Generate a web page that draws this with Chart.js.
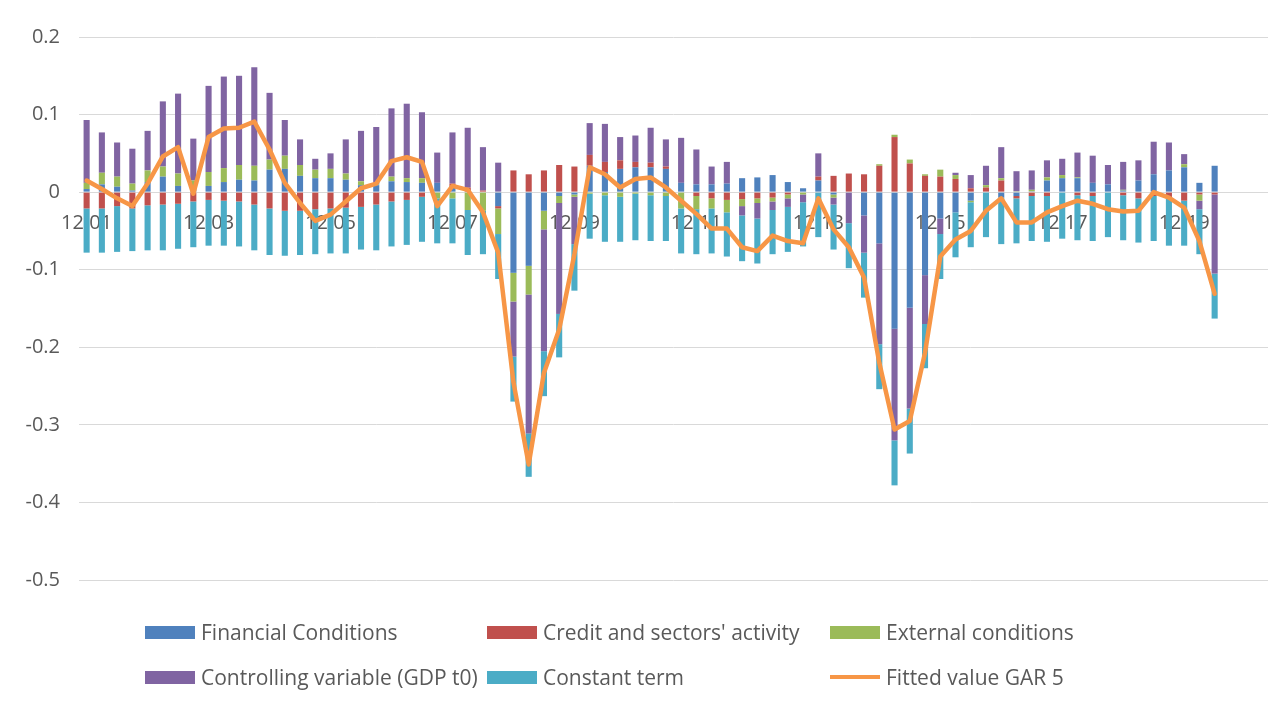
<!DOCTYPE html>
<html>
<head>
<meta charset="utf-8">
<script src="https://cdn.jsdelivr.net/npm/chart.js@4.4.1/dist/chart.umd.min.js"></script>
<style>
  body { margin: 0; background: #fff; }
  #wrap { position: relative; width: 1282px; height: 706px; }
  #legend { position: absolute; left: 0; top: 0; width: 1282px; height: 706px; pointer-events: none;
    font-family: "Open Sans", sans-serif; font-size: 21px; color: #595959; }
  .item { position: absolute; display: flex; align-items: center; white-space: nowrap; }
  .item .mark { width: 50px; height: 13px; margin-right: 6px; }
  .item .mark.line { height: 4px; }
</style>
</head>
<body>
<div id="wrap">
  <canvas id="gar" width="1282" height="706"></canvas>
  <div id="legend"></div>
</div>
<script>
// quarters, 12.01 .. 06.20 (three empty slots after, as in the original axis)
const quarters = [
  "12.01",
  "03.02","06.02","09.02","12.02","03.03","06.03","09.03","12.03",
  "03.04","06.04","09.04","12.04","03.05","06.05","09.05","12.05",
  "03.06","06.06","09.06","12.06","03.07","06.07","09.07","12.07",
  "03.08","06.08","09.08","12.08","03.09","06.09","09.09","12.09",
  "03.10","06.10","09.10","12.10","03.11","06.11","09.11","12.11",
  "03.12","06.12","09.12","12.12","03.13","06.13","09.13","12.13",
  "03.14","06.14","09.14","12.14","03.15","06.15","09.15","12.15",
  "03.16","06.16","09.16","12.16","03.17","06.17","09.17","12.17",
  "03.18","06.18","09.18","12.18","03.19","06.19","09.19","12.19",
  "03.20","06.20","09.20","12.20","03.21"
];

const financialConditions = [
  0.004,0.010,0.007,0.002,0.013,0.020,0.008,0.005,0.008,0.013,0.016,0.015,0.029,0.030,0.021,0.018,
  0.018,0.016,0.009,0.009,0.014,0.013,0.012,0.012,0.008,0,0,-0.018,-0.104,-0.095,-0.024,-0.005,
  -0.003,0.034,0.026,0.030,0.032,0.032,0.030,0.012,0.010,0.010,0.011,0.018,0.019,0.022,0.013,0.005,
  0.015,-0.003,0,-0.030,-0.066,-0.176,-0.149,-0.107,-0.034,-0.026,-0.011,0,-0.007,-0.005,0.001,0.015,
  0.018,0.018,0.012,0.010,0.002,0.015,0.023,0.028,0.032,0.012,0.034
];
const creditActivity = [
  -0.021,-0.021,-0.018,-0.021,-0.017,-0.016,-0.015,-0.012,-0.010,-0.011,-0.012,-0.016,-0.021,-0.024,-0.024,-0.022,
  -0.021,-0.020,-0.019,-0.016,-0.012,-0.010,-0.006,0,0.003,0.006,0.002,-0.003,0.028,0.023,0.028,0.035,
  0.033,0.014,0.013,0.011,0.007,0.006,0.003,0,-0.005,-0.008,-0.010,-0.009,-0.008,-0.007,-0.003,0,
  0.005,0.021,0.024,0.023,0.034,0.071,0.037,0.021,0.020,0.017,0.005,0.006,0.015,-0.003,-0.005,-0.005,
  0,-0.004,-0.005,0,-0.004,-0.008,-0.005,-0.007,-0.011,-0.003,-0.003
];
const externalConditions = [
  0.008,0.015,0.013,0.009,0.015,0.013,0.016,0.010,0.018,0.018,0.019,0.019,0.013,0.017,0.014,0.011,
  0.012,0.008,0.005,0.001,0.006,0.005,0.006,-0.008,-0.008,-0.023,-0.024,-0.033,-0.037,-0.037,-0.024,-0.009,
  -0.003,-0.002,-0.004,-0.006,-0.002,-0.004,-0.005,-0.021,-0.017,-0.013,-0.016,-0.009,-0.006,-0.005,-0.005,-0.003,
  0,-0.004,0,0,0.002,0.003,0.005,0.002,0.009,0.005,-0.002,0.003,0.003,0.001,0.002,0.004,
  0.004,0.001,0,0,0.001,0,0,0,0.004,-0.008,0
];
const controllingGdp = [
  0.081,0.052,0.044,0.045,0.051,0.084,0.103,0.054,0.111,0.118,0.115,0.127,0.086,0.046,0.033,0.014,
  0.020,0.044,0.065,0.074,0.088,0.096,0.085,0.039,0.066,0.077,0.056,0.038,-0.071,-0.179,-0.157,-0.143,
  -0.061,0.041,0.049,0.030,0.034,0.045,0.035,0.058,0.045,0.023,0.028,-0.012,-0.020,-0.011,-0.011,-0.010,
  0.030,-0.009,-0.040,-0.048,-0.130,-0.144,-0.130,-0.063,-0.020,0.003,0.017,0.025,0.040,0.026,0.025,0.022,
  0.021,0.032,0.035,0.025,0.036,0.026,0.042,0.036,0.013,-0.011,-0.102
];
const constantTerm = [
  -0.057,-0.057,-0.059,-0.055,-0.058,-0.059,-0.058,-0.059,-0.059,-0.058,-0.058,-0.059,-0.060,-0.058,-0.057,-0.058,
  -0.058,-0.059,-0.055,-0.059,-0.058,-0.058,-0.058,-0.058,-0.058,-0.058,-0.056,-0.058,-0.058,-0.056,-0.058,-0.056,
  -0.060,-0.058,-0.060,-0.058,-0.060,-0.059,-0.058,-0.058,-0.058,-0.058,-0.057,-0.059,-0.058,-0.057,-0.058,-0.057,
  -0.058,-0.058,-0.058,-0.058,-0.058,-0.058,-0.058,-0.057,-0.058,-0.058,-0.058,-0.058,-0.060,-0.058,-0.058,-0.059,
  -0.060,-0.058,-0.058,-0.058,-0.058,-0.057,-0.058,-0.062,-0.058,-0.058,-0.058
];
const fittedGar5 = [
  0.015,0.004,-0.008,-0.018,0.011,0.046,0.058,-0.002,0.071,0.082,0.083,0.091,0.055,0.012,-0.014,-0.037,
  -0.029,-0.012,0.005,0.011,0.040,0.045,0.039,-0.018,0.008,0.003,-0.026,-0.078,-0.245,-0.351,-0.233,-0.177,
  -0.080,0.032,0.023,0.006,0.017,0.019,0.006,-0.011,-0.028,-0.047,-0.047,-0.071,-0.076,-0.056,-0.063,-0.066,
  -0.008,-0.048,-0.071,-0.110,-0.220,-0.306,-0.295,-0.207,-0.083,-0.061,-0.050,-0.024,-0.008,-0.039,-0.039,-0.026,
  -0.018,-0.011,-0.015,-0.022,-0.025,-0.024,0.000,-0.007,-0.020,-0.063,-0.131
];

const yTicks = [0.2, 0.1, 0, -0.1, -0.2, -0.3, -0.4, -0.5];

const FONT = '"Open Sans", sans-serif';
const GREY = '#595959';

function barSet(label, data, color) {
  return {
    type: 'bar', label: label, data: data, backgroundColor: color,
    stack: 's', order: 1, barPercentage: 0.4, categoryPercentage: 1
  };
}

const datasets = [
  barSet('Financial Conditions', financialConditions, '#4F81BD'),
  barSet("Credit and sectors' activity", creditActivity, '#C0504D'),
  barSet('External conditions', externalConditions, '#9BBB59'),
  barSet('Controlling variable (GDP t0)', controllingGdp, '#8064A2'),
  barSet('Constant term', constantTerm, '#4BACC6'),
  {
    type: 'line', label: 'Fitted value GAR 5', data: fittedGar5,
    borderColor: '#F79646', borderWidth: 4.5, pointRadius: 0,
    borderJoinStyle: 'round', borderCapStyle: 'round', tension: 0, order: 0
  }
];

const chart = new Chart(document.getElementById('gar'), {
  data: { labels: quarters, datasets: datasets },
  options: {
    responsive: false,
    animation: false,
    layout: { padding: { top: 37, right: 14, bottom: 126, left: 0 } },
    plugins: { legend: { display: false }, tooltip: { enabled: false } },
    scales: {
      x: {
        stacked: true,
        position: { y: 0 },
        grid: { display: false, drawTicks: false },
        border: { display: false },
        ticks: {
          autoSkip: false, maxRotation: 0, padding: 19,
          color: GREY, font: { family: FONT, size: 20 },
          callback: function (v, i) { return i % 8 === 0 ? this.getLabelForValue(v) : ''; }
        }
      },
      y: {
        stacked: true,
        min: -0.5, max: 0.2,
        afterBuildTicks: function (s) { s.ticks = yTicks.map(v => ({ value: v })); },
        afterFit: function (s) { s.width = 79; },
        grid: { color: '#D9D9D9', lineWidth: 1, drawTicks: false },
        border: { display: false },
        ticks: {
          padding: 19, color: GREY, font: { family: FONT, size: 20 },
          callback: v => (v === 0 ? '0' : String(Math.round(v * 10) / 10))
        }
      }
    }
  }
});

// legend laid out in three fixed columns like the original
const legendPos = [
  [145, 632], [487, 632], [830, 632],
  [145, 677], [487, 677], [830, 677]
];
const legendBox = document.getElementById('legend');
chart.data.datasets.forEach((ds, i) => {
  const it = document.createElement('div');
  it.className = 'item';
  it.style.left = legendPos[i][0] + 'px';
  it.style.top = (legendPos[i][1] - 14) + 'px';
  it.style.height = '28px';
  const mk = document.createElement('span');
  mk.className = 'mark' + (ds.type === 'line' ? ' line' : '');
  mk.style.background = ds.type === 'line' ? ds.borderColor : ds.backgroundColor;
  const tx = document.createElement('span');
  tx.textContent = ds.label;
  it.appendChild(mk);
  it.appendChild(tx);
  legendBox.appendChild(it);
});
</script>
</body>
</html>
